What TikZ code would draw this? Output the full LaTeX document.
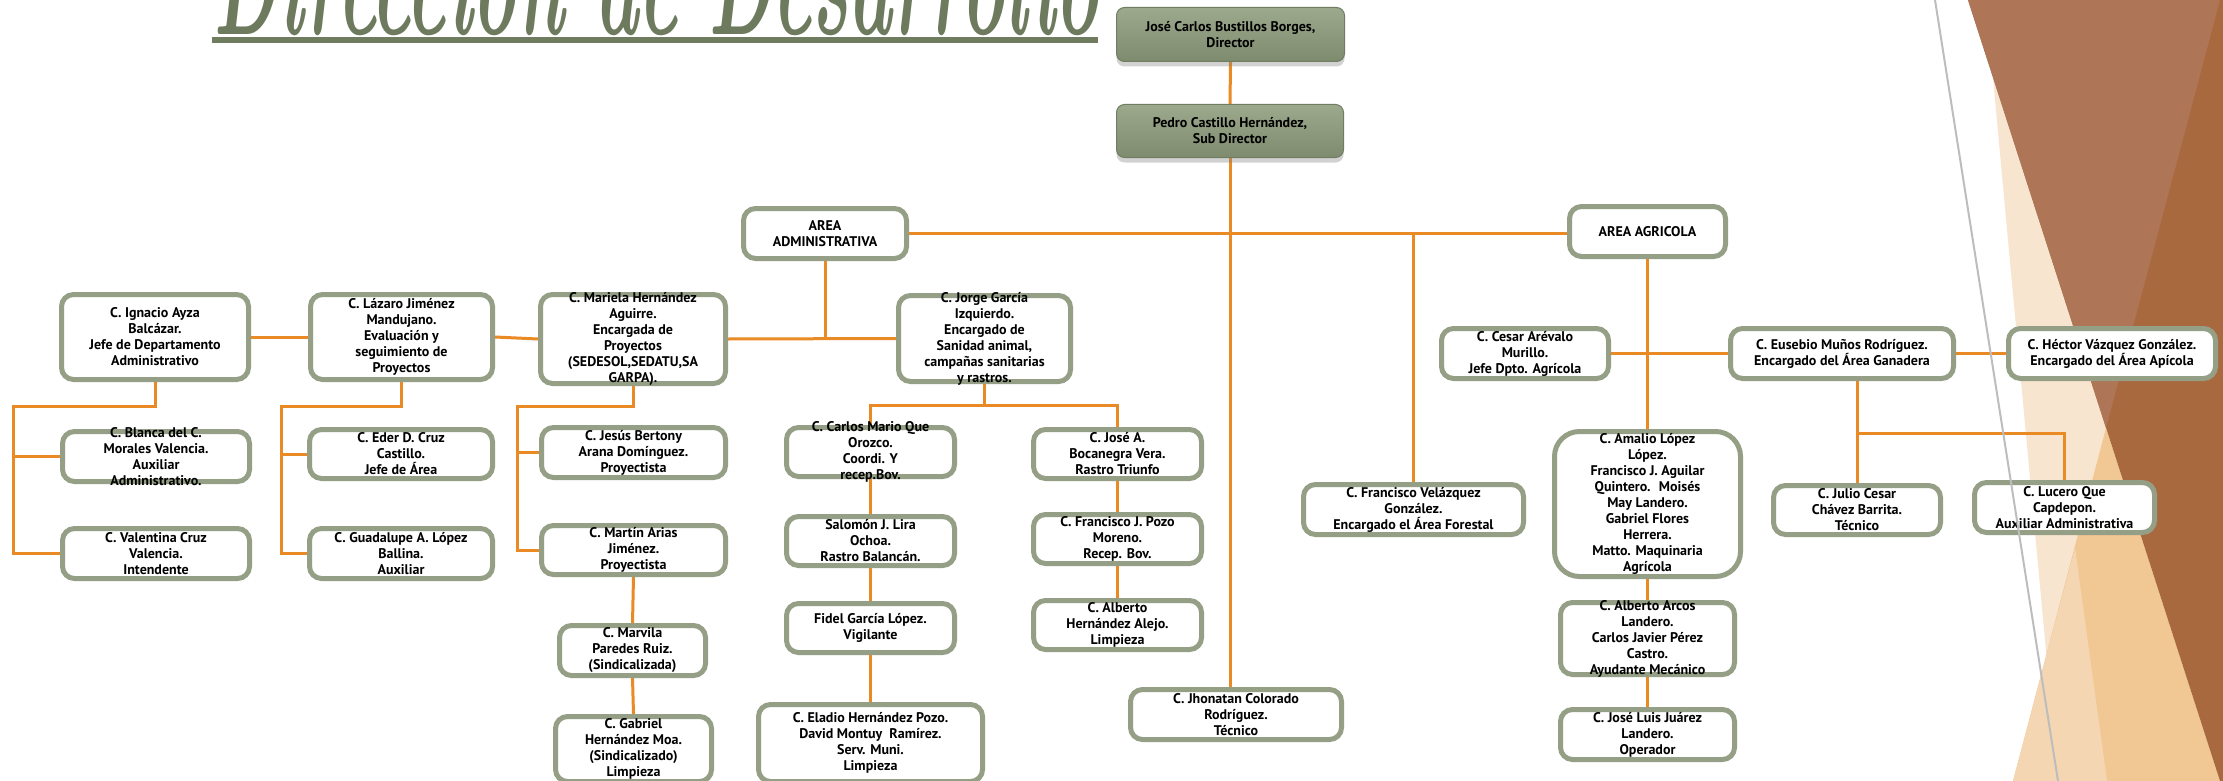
\documentclass[tikz,border=0pt]{standalone}
\usepackage{fontspec}
\newfontfamily\boxfont{PT Sans}
\usetikzlibrary{shadows}
\definecolor{boxgray}{HTML}{949F86}
\definecolor{lineorange}{HTML}{EA8A25}
\definecolor{gtop}{HTML}{9DA98D}
\definecolor{gbot}{HTML}{7E8B6E}
\definecolor{titlegreen}{HTML}{6D7A5D}
\definecolor{barcol}{HTML}{6F7C60}
\definecolor{brownA}{HTML}{A9693F}
\definecolor{brownB}{HTML}{AE7556}
\definecolor{peachA}{HTML}{F8E5CF}
\definecolor{tanA}{HTML}{F1C794}
\definecolor{tanB}{HTML}{F5D6B2}
\definecolor{slidegray}{HTML}{BDBDBD}
\pgfdeclarelayer{bg}
\pgfdeclarelayer{lines}
\pgfdeclarelayer{fg}
\pgfsetlayers{bg,lines,main,fg}
\tikzset{
  pbox/.style={draw=boxgray, line width=5pt, fill=white, rounded corners=12pt, inner sep=0pt},
  btxt/.style={font=\boxfont\bfseries\fontsize{14}{16}\selectfont, align=center, inner sep=0pt, text=black},
  gbox/.style={draw=gbot!90!black, line width=1pt, rounded corners=8pt, top color=gtop, bottom color=gbot, inner sep=0pt,
    drop shadow={shadow xshift=0pt, shadow yshift=-5pt, opacity=0.35}},
  conn/.style={draw=lineorange, line width=3pt},
}
\begin{document}
\begin{tikzpicture}[x=1pt,y=-1pt]
\useasboundingbox (0,0) rectangle (2223,781);
\clip (0,0) rectangle (2223,781);

% background decoration
\begin{pgfonlayer}{bg}
\fill[white] (0,0) rectangle (2223,781);
\fill[peachA] (1993,78) -- (2058,781) -- (2220,781) -- cycle;
\fill[tanA] (2106,428) -- (2013,781) -- (2220,781) -- cycle;
\fill[tanB] (2013,781) -- (2075,548) -- (2107,781) -- cycle;
\fill[brownA] (1968,0) -- (2223,0) -- (2223,781) -- (2220,781) -- cycle;
\fill[brownB] (1968,0) -- (2220,0) -- (2106,428) -- cycle;
\end{pgfonlayer}

% title (its upper part lies above the picture, as in the reference)
\node[anchor=base west, inner sep=0pt, text=titlegreen] (title) at (213,35)
  {\resizebox{886pt}{112pt}{\bfseries\itshape Dirección de Desarrollo}};
\fill[barcol] (212,37) rectangle (1098,43);

% top
\node[gbox, minimum width=228pt, minimum height=54pt, label={[btxt]center:{José Carlos Bustillos Borges,\\Director}}] (dir) at (1230.5,34.5) {};
\node[gbox, minimum width=227pt, minimum height=53pt, label={[btxt]center:{Pedro Castillo Hernández,\\Sub Director}}] (sub) at (1230,131) {};

\node[pbox, minimum width=163pt, minimum height=50pt, label={[btxt]center:{AREA\\ADMINISTRATIVA}}] (admin) at (825,233.5) {};
\node[pbox, minimum width=156pt, minimum height=50pt, label={[btxt]center:{AREA AGRICOLA}}] (agri) at (1647.5,231.5) {};

% administrative branch
\node[pbox, minimum width=187pt, minimum height=85pt, label={[btxt]center:{C. Ignacio Ayza\\Balcázar.\\Jefe de Departamento\\Administrativo}}] (ign) at (155,337) {};
\node[pbox, minimum width=182pt, minimum height=85pt, label={[btxt]center:{C. Lázaro Jiménez\\Mandujano.\\Evaluación y\\seguimiento de\\Proyectos}}] (laz) at (401.5,337) {};
\node[pbox, minimum width=185pt, minimum height=89pt, label={[btxt]center:{C. Mariela Hernández\\Aguirre.\\Encargada de\\Proyectos\\(SEDESOL,SEDATU,SA\\GARPA).}}] (mar) at (633,339) {};
\node[pbox, minimum width=172pt, minimum height=86pt, label={[btxt]center:{C. Jorge García\\Izquierdo.\\Encargado de\\Sanidad animal,\\campañas sanitarias\\y rastros.}}] (jor) at (984.5,338.5) {};

\node[pbox, minimum width=187pt, minimum height=50pt, label={[btxt]center:{C. Blanca del C.\\Morales Valencia.\\Auxiliar\\Administrativo.}}] (bla) at (156,456.5) {};
\node[pbox, minimum width=187pt, minimum height=50pt, label={[btxt]center:{C. Valentina Cruz\\Valencia.\\Intendente}}] (val) at (156,553.5) {};
\node[pbox, minimum width=183pt, minimum height=49pt, label={[btxt]center:{C. Eder D. Cruz\\Castillo.\\Jefe de Área}}] (ede) at (401,454) {};
\node[pbox, minimum width=183pt, minimum height=50pt, label={[btxt]center:{C. Guadalupe A. López\\Ballina.\\Auxiliar}}] (gua) at (401,553.5) {};
\node[pbox, minimum width=184pt, minimum height=50pt, label={[btxt]center:{C. Jesús Bertony\\Arana Domínguez.\\Proyectista}}] (jes) at (633.5,452.5) {};
\node[pbox, minimum width=184pt, minimum height=49pt, label={[btxt]center:{C. Martín Arias\\Jiménez.\\Proyectista}}] (mat) at (633.5,550) {};
\node[pbox, minimum width=146pt, minimum height=50pt, label={[btxt]center:{C. Marvila\\Paredes Ruiz.\\(Sindicalizada)}}] (mav) at (632.5,650.5) {};
\node[pbox, minimum width=156pt, minimum height=65pt, label={[btxt]center:{C. Gabriel\\Hernández Moa.\\(Sindicalizado)\\Limpieza}}] (gab) at (633.5,749) {};

\node[pbox, minimum width=168pt, minimum height=49pt, label={[btxt]center:{C. Carlos Mario Que\\Orozco.\\Coordi. Y\\recep.Bov.}}] (car) at (870.5,452) {};
\node[pbox, minimum width=168pt, minimum height=49pt, label={[btxt]center:{Salomón J. Lira\\Ochoa.\\Rastro Balancán.}}] (sal) at (870.5,541) {};
\node[pbox, minimum width=168pt, minimum height=49pt, label={[btxt]center:{Fidel García López.\\Vigilante}}] (fid) at (870.5,628) {};
\node[pbox, minimum width=224pt, minimum height=77pt, label={[btxt]center:{C. Eladio Hernández Pozo.\\David Montuy~ Ramírez.\\Serv. Muni.\\Limpieza}}] (ela) at (870.5,743) {};
\node[pbox, minimum width=168pt, minimum height=49pt, label={[btxt]center:{C. José A.\\Bocanegra Vera.\\Rastro Triunfo}}] (jos) at (1117.5,454) {};
\node[pbox, minimum width=168pt, minimum height=49pt, label={[btxt]center:{C. Francisco J. Pozo\\Moreno.\\Recep. Bov.}}] (fpz) at (1117.5,539) {};
\node[pbox, minimum width=168pt, minimum height=49pt, label={[btxt]center:{C. Alberto\\Hernández Alejo.\\Limpieza}}] (alb) at (1117.5,625) {};

\node[pbox, minimum width=211pt, minimum height=50pt, label={[btxt]center:{C. Jhonatan Colorado\\Rodríguez.\\Técnico}}] (jho) at (1236,714.5) {};

% agricultural branch
\node[pbox, minimum width=220pt, minimum height=50pt, label={[btxt]center:{C. Francisco Velázquez\\González.\\Encargado el Área Forestal}}] (fvz) at (1413.5,509.5) {};
\node[pbox, minimum width=167pt, minimum height=50pt, label={[btxt]center:{C. Cesar Arévalo\\Murillo.\\Jefe Dpto. Agrícola}}] (ces) at (1525,353.5) {};
\node[pbox, minimum width=223pt, minimum height=50pt, label={[btxt]center:{C. Eusebio Muños Rodríguez.\\Encargado del Área Ganadera}}] (eus) at (1842,353.5) {};
\node[pbox, minimum width=207pt, minimum height=50pt, label={[btxt]center:{C. Héctor Vázquez González.\\Encargado del Área Apícola}}] (hec) at (2112,353.5) {};
\node[pbox, rounded corners=25pt, minimum width=186pt, minimum height=145pt, label={[btxt]center:{C. Amalio López\\López.\\Francisco J. Aguilar\\Quintero.~ Moisés\\May Landero.\\Gabriel Flores\\Herrera.\\Matto. Maquinaria\\Agrícola}}] (ama) at (1647.5,504) {};
\node[pbox, minimum width=167pt, minimum height=49pt, label={[btxt]center:{C. Julio Cesar\\Chávez Barrita.\\Técnico}}] (jul) at (1857,510) {};
\node[pbox, minimum width=180pt, minimum height=50pt, label={[btxt]center:{C. Lucero Que\\Capdepon.\\Auxiliar Administrativa}}] (luc) at (2064.5,507.5) {};
\node[pbox, minimum width=174pt, minimum height=72pt, label={[btxt]center:{C. Alberto Arcos\\Landero.\\Carlos Javier Pérez\\Castro.\\Ayudante Mecánico}}] (arc) at (1647.5,638.5) {};
\node[pbox, minimum width=174pt, minimum height=50pt, label={[btxt]center:{C. José Luis Juárez\\Landero.\\Operador}}] (jlj) at (1647.5,734.5) {};

% bus points
\coordinate (ibus) at (13,406);
\coordinate (lbus) at (281,406);
\coordinate (mbus) at (517,406);
\coordinate (jbus) at (984.5,405);
\coordinate (ebus) at (1857,433);

\begin{pgfonlayer}{lines}
\draw[conn] (dir.south) -- (sub.north);
\draw[conn] (sub.south) -- (sub.south |- jho.north);
\draw[conn] (admin.east) -- (admin.east -| agri.west);
\draw[conn] (fvz.north) -- (fvz.north |- agri.west);
\draw[conn] (admin.south) -- (admin.south |- mar.east);
\draw[conn] (mar.east) -- (jor.west);
\draw[conn] (ign.east) -- (laz.west);
\draw[conn] (laz.east) -- (mar.west);
\draw[conn] (ign.south) |- (ibus) |- (val.west);
\draw[conn] (ibus |- bla.west) -- (bla.west);
\draw[conn] (laz.south) |- (lbus) |- (gua.west);
\draw[conn] (lbus |- ede.west) -- (ede.west);
\draw[conn] (mar.south) |- (mbus) |- (mat.west);
\draw[conn] (mbus |- jes.west) -- (jes.west);
\draw[conn] (mat.south) -- (mav.north);
\draw[conn] (mav.south) -- (gab.north);
\draw[conn] (jor.south) -- (jbus);
\draw[conn] (car.north) |- (jbus) -| (jos.north);
\draw[conn] (car.south) -- (sal.north);
\draw[conn] (sal.south) -- (fid.north);
\draw[conn] (fid.south) -- (ela.north);
\draw[conn] (jos.south) -- (fpz.north);
\draw[conn] (fpz.south) -- (alb.north);
\draw[conn] (agri.south) -- (ama.north);
\draw[conn] (ces.east) -- (eus.west);
\draw[conn] (eus.east) -- (hec.west);
\draw[conn] (jul.north |- eus.south) -- (jul.north);
\draw[conn] (ebus) -| (luc.north);
\draw[conn] (ama.south) -- (arc.north);
\draw[conn] (arc.south) -- (jlj.north);
\end{pgfonlayer}

\begin{pgfonlayer}{fg}
\draw[slidegray, line width=2pt] (1935,0) -- (2058,781);
\end{pgfonlayer}
\end{tikzpicture}
\end{document}
